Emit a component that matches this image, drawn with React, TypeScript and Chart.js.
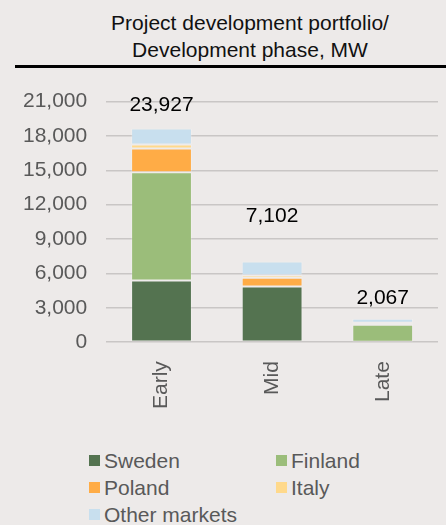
import React, { useEffect, useRef } from "react";
import { Chart, registerables } from "chart.js";

Chart.register(...registerables);

const categories = ["Early", "Mid", "Late"];
const sweden = [5380, 4860, 30];
const finland = [9460, 0, 1490];
const poland = [2070, 770, 130];
const italy = [350, 210, 40];
const otherMarkets = [1400, 1210, 350];
const totalLabels = ["23,927", "7,102", "2,067"];
const labelAnchors = [20660, 10960, 3800];
const yTicks = [0, 3000, 6000, 9000, 12000, 15000, 18000, 21000];

const seriesNames = ["Sweden", "Finland", "Poland", "Italy", "Other markets"];
const seriesColors = ["#547350", "#9BBD7A", "#FFAC46", "#FFD98B", "#C8DFEE"];
const seriesValues = [sweden, finland, poland, italy, otherMarkets];

const FONT = "'Liberation Sans', Arial, sans-serif";

const totalsPlugin = {
  id: "totals",
  afterDatasetsDraw(chart: any) {
    const ctx = chart.ctx;
    const y = chart.scales.y;
    ctx.save();
    ctx.font = `21px ${FONT}`;
    ctx.fillStyle = "#000";
    ctx.textAlign = "center";
    ctx.textBaseline = "middle";
    const meta = chart.getDatasetMeta(0);
    totalLabels.forEach((t, i) => {
      const bar = meta.data[i];
      ctx.fillText(t, bar.x, y.getPixelForValue(labelAnchors[i]));
    });
    ctx.restore();
  },
};

export default function App() {
  const ref = useRef<HTMLCanvasElement>(null);
  useEffect(() => {
    document.body.style.margin = "0";
    const chart = new Chart(ref.current!, {
      type: "bar",
      data: {
        labels: categories,
        datasets: seriesNames.map((n, i) => ({
          label: n,
          data: seriesValues[i],
          backgroundColor: seriesColors[i],
          borderColor: "rgba(255,255,255,0.2)",
          borderWidth: 1,
          borderSkipped: false,
          barPercentage: 0.55,
          categoryPercentage: 1,
        })),
      },
      options: {
        animation: false,
        responsive: false,
        maintainAspectRatio: false,
        layout: { padding: { top: 14, left: 4, right: 8, bottom: 0 } },
        plugins: {
          legend: { display: false },
          tooltip: { enabled: false },
          title: { display: false },
        },
        scales: {
          x: {
            stacked: true,
            grid: { display: false, drawTicks: false },
            border: { display: false },
            ticks: {
              color: "#595959",
              font: { family: FONT, size: 21 },
              minRotation: 90,
              maxRotation: 90,
              padding: 19,
            },
          },
          y: {
            stacked: true,
            min: 0,
            max: 21000,
            afterBuildTicks: (axis: any) => {
              axis.ticks = yTicks.map((v) => ({ value: v }));
            },
            grid: { color: "#C9C6C5", lineWidth: 1.5, drawTicks: false },
            border: { display: false },
            ticks: {
              color: "#595959",
              font: { family: FONT, size: 21 },
              padding: 19,
              callback: (v: any) => Number(v).toLocaleString("en-US"),
            },
          },
        },
      },
      plugins: [totalsPlugin],
    });
    return () => chart.destroy();
  }, []);

  return (
    <div
      style={{
        position: "absolute",
        left: 0,
        top: 0,
        width: 446,
        height: 525,
        background: "#EDEAE9",
        fontFamily: FONT,
        overflow: "hidden",
      }}
    >
      <div
        style={{
          position: "absolute",
          left: 0,
          width: 500,
          top: 9,
          textAlign: "center",
          fontSize: 21,
          lineHeight: "27px",
          color: "#111",
        }}
      >
        Project development portfolio/
        <br />
        Development phase, MW
      </div>
      <div
        style={{
          position: "absolute",
          left: 15,
          right: 0,
          top: 65,
          height: 3,
          background: "#000",
        }}
      />
      <canvas
        ref={ref}
        width={446}
        height={358}
        style={{ position: "absolute", left: 0, top: 70, width: 446, height: 358 }}
      />
      <div
        style={{
          position: "absolute",
          left: 89,
          top: 449,
          display: "grid",
          gridTemplateColumns: "187px 150px",
          rowGap: 4,
          fontSize: 21,
          color: "#595959",
          lineHeight: "23px",
        }}
      >
        {seriesNames.map((n, i) => (
          <div key={n} style={{ display: "flex", alignItems: "center" }}>
            <span
              style={{
                display: "inline-block",
                width: 11,
                height: 11,
                background: seriesColors[i],
                marginRight: 4,
              }}
            />
            {n}
          </div>
        ))}
      </div>
    </div>
  );
}
